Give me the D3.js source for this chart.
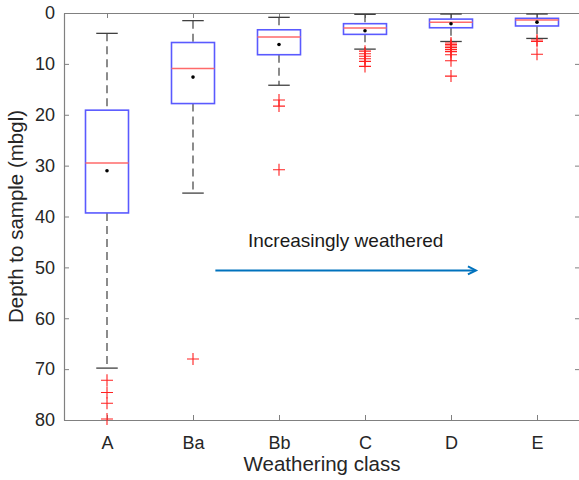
<!DOCTYPE html>
<html><head><meta charset="utf-8">
<script src="https://cdn.jsdelivr.net/npm/d3@7"></script>
<style>body{margin:0;background:#fff;} svg{display:block;font-family:"Liberation Sans",Arial,sans-serif;}</style>
</head><body>
<svg id="c" width="579" height="480"></svg>
<script>
const categories = ["A","Ba","Bb","C","D","E"];
const whiskerTop = [4.0, 1.5, 0.85, 0.26, 0.2, 0.2];
const q1 = [19.1, 5.8, 3.3, 2.1, 1.2, 1.05];
const medians = [29.5, 10.9, 4.7, 2.95, 1.8, 1.4];
const means = [31.0, 12.6, 6.2, 3.5, 2.1, 1.8];
const q3 = [39.3, 17.8, 8.2, 4.2, 2.9, 2.55];
const whiskerBottom = [69.8, 35.4, 14.2, 7.1, 5.6, 5.0];
const outliers = [
  [72.2, 74.6, 76.7, 79.8],
  [68.0],
  [17.1, 18.3, 30.8],
  [7.5, 8.0, 8.5, 9.0, 9.5, 10.5],
  [5.9, 6.2, 6.5, 6.8, 7.2, 7.6, 8.2, 9.4, 12.4],
  [5.3, 5.6, 8.1]
];
const yTicks = [0,10,20,30,40,50,60,70,80];
const annotationText = "Increasingly weathered";
const arrowFrom = [2.26, 50.6];
const arrowTo = [5.29, 50.6];

const svg = d3.select("#c");
const L = 64, R = 580, T = 13, B = 420;
const x = d3.scaleLinear().domain([0.5, 6.5]).range([L, R]);
const y = d3.scaleLinear().domain([0, 80]).range([T, B]);
const axisCol = "#808080", textCol = "#262626";
const step = x(2) - x(1);

const yAxisL = d3.axisLeft(y).tickValues(yTicks).tickSizeInner(-5).tickSizeOuter(0).tickPadding(9);
const gL = svg.append("g").attr("transform",`translate(${L},0)`).call(yAxisL);
const yAxisR = d3.axisRight(y).tickValues(yTicks).tickSizeInner(-5).tickSizeOuter(0).tickFormat("");
const gR = svg.append("g").attr("transform",`translate(${R},0)`).call(yAxisR);
const xAxisB = d3.axisBottom(x).tickValues(d3.range(1,7)).tickFormat((d,i)=>categories[i]).tickSizeInner(-5).tickSizeOuter(0).tickPadding(16);
const gB = svg.append("g").attr("transform",`translate(0,${B})`).call(xAxisB);
const xAxisT = d3.axisTop(x).tickValues(d3.range(1,7)).tickFormat("").tickSizeInner(-5).tickSizeOuter(0);
const gT = svg.append("g").attr("transform",`translate(0,${T})`).call(xAxisT);
[gL,gR,gB,gT].forEach(g=>{
  g.attr("font-family","Liberation Sans, Arial, sans-serif").attr("font-size",18);
  g.selectAll("path.domain").attr("stroke",axisCol).attr("stroke-width",1.2);
  g.selectAll(".tick line").attr("stroke",axisCol).attr("stroke-width",1);
  g.selectAll(".tick text").attr("fill",textCol);
});

const plot = svg.append("g");
categories.forEach((c,i)=>{
  const cx = x(i+1);
  const bw = step*0.5, cw = step*0.25;
  plot.append("line").attr("x1",cx).attr("x2",cx).attr("y1",y(whiskerTop[i])).attr("y2",y(q1[i]))
    .attr("stroke","#404040").attr("stroke-width",1.2).attr("stroke-dasharray","8,5");
  plot.append("line").attr("x1",cx).attr("x2",cx).attr("y1",y(q3[i])).attr("y2",y(whiskerBottom[i]))
    .attr("stroke","#404040").attr("stroke-width",1.2).attr("stroke-dasharray","8,5");
  [whiskerTop[i], whiskerBottom[i]].forEach(v=>{
    plot.append("line").attr("x1",cx-cw/2).attr("x2",cx+cw/2).attr("y1",y(v)).attr("y2",y(v))
      .attr("stroke","#404040").attr("stroke-width",1.3);
  });
  plot.append("rect").attr("x",cx-bw/2).attr("width",bw).attr("y",y(q1[i])).attr("height",y(q3[i])-y(q1[i]))
    .attr("fill","none").attr("stroke","#5a5aff").attr("stroke-width",1.6);
  plot.append("line").attr("x1",cx-bw/2).attr("x2",cx+bw/2).attr("y1",y(medians[i])).attr("y2",y(medians[i]))
    .attr("stroke","#ff6a6a").attr("stroke-width",1.5);
  plot.append("circle").attr("cx",cx).attr("cy",y(means[i])).attr("r",1.8).attr("fill","#000");
  outliers[i].forEach(v=>{
    const oy = y(v), h = 6;
    plot.append("path").attr("d",`M${cx-h},${oy}H${cx+h}M${cx},${oy-h}V${oy+h}`)
      .attr("stroke","#ff2020").attr("stroke-width",1.1).attr("fill","none");
  });
});

svg.append("text").attr("x",(x(arrowFrom[0])+x(arrowTo[0]))/2).attr("y",y(arrowFrom[1])-23)
  .attr("text-anchor","middle").attr("font-size",19).attr("fill","#1a1a1a").text(annotationText);
const ax1 = x(arrowFrom[0]), ax2 = x(arrowTo[0]), ay = y(arrowFrom[1]);
svg.append("line").attr("x1",ax1).attr("x2",ax2-2).attr("y1",ay).attr("y2",ay).attr("stroke","#0072BD").attr("stroke-width",2);
svg.append("path").attr("d",`M${ax2-8},${ay-4}L${ax2},${ay}L${ax2-8},${ay+4}`).attr("fill","none").attr("stroke","#0072BD").attr("stroke-width",2);

svg.append("text").attr("x",(L+R)/2 - 0).attr("y",471).attr("text-anchor","middle").attr("font-size",20.5).attr("fill",textCol).text("Weathering class");
svg.append("text").attr("transform",`translate(16,${(T+B)/2}) rotate(-90)`).attr("text-anchor","middle").attr("dy","0.35em").attr("font-size",20.5).attr("fill",textCol).text("Depth to sample (mbgl)");
</script>
</body></html>
